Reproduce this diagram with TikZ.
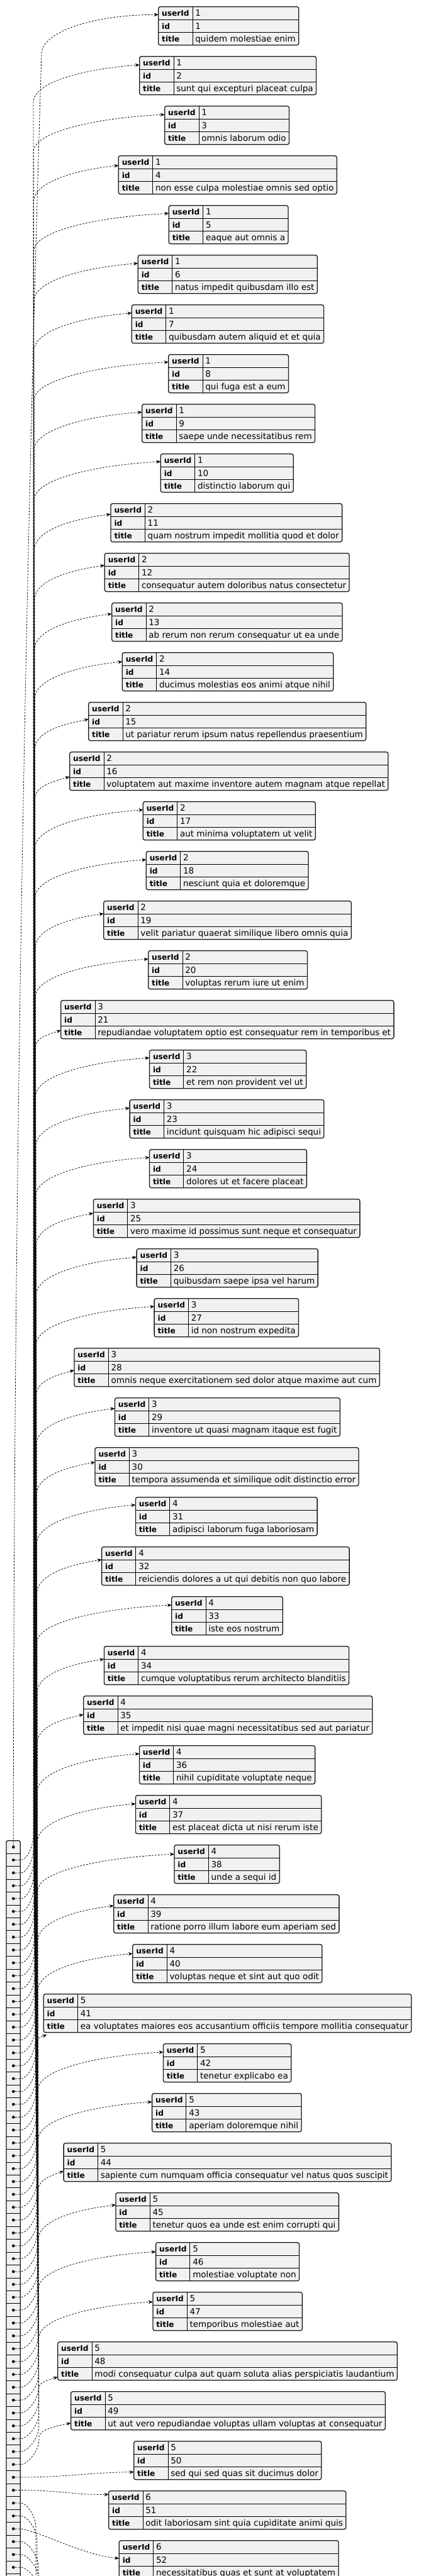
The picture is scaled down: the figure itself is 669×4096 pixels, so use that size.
\documentclass[tikz,border=0pt]{standalone}
\usepackage{fontspec}
\setmainfont{DejaVu Sans}
\usetikzlibrary{arrows.meta}
\definecolor{boxfill}{HTML}{F1F1F1}
\definecolor{boxline}{HTML}{181818}
\pgfdeclarelayer{bg}
\pgfsetlayers{bg,main}
\newcommand\valfont{\fontsize{13.5}{16}\selectfont}
\newcommand\keyfont{\fontsize{12.2}{15}\selectfont\bfseries}
\tikzset{
 objfill/.style={fill=boxfill, rounded corners=3pt},
 objborder/.style={draw=boxline, line width=1.3pt, rounded corners=3pt},
 rowline/.style={draw=black, line width=0.9pt},
 keytext/.style={anchor=base west, inner sep=0pt, font=\keyfont},
 valtext/.style={anchor=base west, inner sep=0pt, font=\valfont},
 connplain/.style={draw=black, line width=0.75pt, dash pattern=on 2.8pt off 2.2pt},
 conn/.style={connplain, -{Stealth[length=7pt,width=5.5pt,inset=2.2pt]}},
 bullet/.style={circle, fill=black, inner sep=0pt, minimum size=4.6pt},
}
\newcommand\jo[5]{%
 \pgfmathsetmacro\tp{10.7+79*(#1-1)}%
 \node[keytext] (ku#1) at (#2+5.3,\tp+15.2) {userId};
 \node[keytext] (ki#1) at (#2+5.3,\tp+35.5) {id};
 \node[keytext] (kt#1) at (#2+5.3,\tp+55.9) {title};
 \node[valtext] (vu#1) at (#2+58.5,\tp+15.2) {#3};
 \node[valtext] (vi#1) at (#2+58.5,\tp+35.5) {#1};
 \node[valtext] (vt#1) at (#2+58.5,\tp+55.9) {#4};
 \coordinate (p#1) at (#2,\tp);
 \coordinate (q#1) at (#2,\tp+61);
 \coordinate (h#1) at (#2,\tp+20.33);
 \coordinate (g#1) at (#2,\tp+40.67);
 \coordinate (m#1) at (#2+54.3,\tp);
 \coordinate (r#1) at ([xshift=4.7pt]vt#1.base east);
 \begin{pgfonlayer}{bg}
  \fill[objfill] (p#1) rectangle (r#1 |- q#1);
  \draw[rowline] (h#1) -- (h#1 -| r#1);
  \draw[rowline] (g#1) -- (g#1 -| r#1);
  \draw[rowline] (m#1) -- (m#1 |- q#1);
  \draw[objborder] (p#1) rectangle (r#1 |- q#1);
 \end{pgfonlayer}
 \coordinate (a#1) at (#2,\tp+#5);
}
\begin{document}
\begin{tikzpicture}[x=1pt,y=-1pt]
\useasboundingbox (0,0) rectangle (669,4096);
\clip (0,0) rectangle (669,4096);
\begin{pgfonlayer}{bg}
\fill[white] (0,0) rectangle (669,4096);
\end{pgfonlayer}

% objects
\jo{1}{251.7}{1}{quidem molestiae enim}{12.6}
\jo{2}{221.7}{1}{sunt qui excepturi placeat culpa}{13.4}
\jo{3}{261.7}{1}{omnis laborum odio}{13.4}
\jo{4}{188.3}{1}{non esse culpa molestiae omnis sed optio}{15.4}
\jo{5}{268.3}{1}{eaque aut omnis a}{12.6}
\jo{6}{219.3}{1}{natus impedit quibusdam illo est}{13}
\jo{7}{209.3}{1}{quibusdam autem aliquid et et quia}{13}
\jo{8}{267.7}{1}{qui fuga est a eum}{12}
\jo{9}{225.7}{1}{saepe unde necessitatibus rem}{12.6}
\jo{10}{255.3}{1}{distinctio laborum qui}{12.3}
\jo{11}{176}{2}{quam nostrum impedit mollitia quod et dolor}{17}
\jo{12}{166.3}{2}{consequatur autem doloribus natus consectetur}{19.3}
\jo{13}{177.7}{2}{ab rerum non rerum consequatur ut ea unde}{17.4}
\jo{14}{194.3}{2}{ducimus molestias eos animi atque nihil}{14.4}
\jo{15}{140.7}{2}{ut pariatur rerum ipsum natus repellendus praesentium}{27}
\jo{16}{110.7}{2}{voluptatem aut maxime inventore autem magnam atque repellat}{39.3}
\jo{17}{227.3}{2}{aut minima voluptatem ut velit}{13}
\jo{18}{232.3}{2}{nesciunt quia et doloremque}{13.3}
\jo{19}{164.7}{2}{velit pariatur quaerat similique libero omnis quia}{20}
\jo{20}{235.7}{2}{voluptas rerum iure ut enim}{13.3}
\jo{21}{96.7}{3}{repudiandae voluptatem optio est consequatur rem in temporibus et}{47.3}
\jo{22}{237.5}{3}{et rem non provident vel ut}{12.3}
\jo{23}{206.1}{3}{incidunt quisquam hic adipisci sequi}{13.3}
\jo{24}{237.5}{3}{dolores ut et facere placeat}{12.7}
\jo{25}{148.4}{3}{vero maxime id possimus sunt neque et consequatur}{22.3}
\jo{26}{217.1}{3}{quibusdam saepe ipsa vel harum}{13.3}
\jo{27}{245.1}{3}{id non nostrum expedita}{12.7}
\jo{28}{117.9}{3}{omnis neque exercitationem sed dolor atque maxime aut cum}{35}
\jo{29}{182.4}{3}{inventore ut quasi magnam itaque est fugit}{16.7}
\jo{30}{151}{3}{tempora assumenda et similique odit distinctio error}{23.3}
\jo{31}{215.4}{4}{adipisci laborum fuga laboriosam}{12.2}
\jo{32}{161.6}{4}{reiciendis dolores a ut qui debitis non quo labore}{20.2}
\jo{33}{272.7}{4}{iste eos nostrum}{13.4}
\jo{34}{165.4}{4}{cumque voluptatibus rerum architecto blanditiis}{20.4}
\jo{35}{132.7}{4}{et impedit nisi quae magni necessitatibus sed aut pariatur}{29.4}
\jo{36}{221.4}{4}{nihil cupiditate voluptate neque}{12.8}
\jo{37}{215.4}{4}{est placeat dicta ut nisi rerum iste}{13.4}
\jo{38}{276.9}{4}{unde a sequi id}{14.5}
\jo{39}{180.7}{4}{ratione porro illum labore eum aperiam sed}{17.5}
\jo{40}{210.8}{4}{voluptas neque et sint aut quo odit}{14.6}
\jo{41}{69.2}{5}{ea voluptates maiores eos accusantium officiis tempore mollitia consequatur}{64.4}
\jo{42}{259.4}{5}{tenetur explicabo ea}{13.2}
\jo{43}{241.6}{5}{aperiam doloremque nihil}{13.4}
\jo{44}{101.1}{5}{sapiente cum numquam officia consequatur vel natus quos suscipit}{44}
\jo{45}{183.9}{5}{tenetur quos ea unde est enim corrupti qui}{19.3}
\jo{46}{247.6}{5}{molestiae voluptate non}{14.7}
\jo{47}{242.9}{5}{temporibus molestiae aut}{15.3}
\jo{48}{91.7}{5}{modi consequatur culpa aut quam soluta alias perspiciatis laudantium}{55.6}
\jo{49}{112.7}{5}{ut aut vero repudiandae voluptas ullam voluptas at consequatur}{50}
\jo{50}{212.7}{5}{sed qui sed quas sit ducimus dolor}{49}
\jo{51}{172.7}{6}{odit laboriosam sint quia cupiditate animi quis}{5.7}
\jo{52}{189.3}{6}{necessitatibus quas et sunt at voluptatem}{28.3}
\coordinate (a41) at (74.3,3235.1);

% array
\fill[objfill] (10,2926.7) rectangle (32.3,4260);
\foreach \i in {1,...,64} {
  \draw[rowline] (10,2926.7+20.45*\i) -- (32.3,2926.7+20.45*\i);
}
\draw[objborder] (10,2926.7) rectangle (32.3,4260);
\foreach \i in {0,...,64} {
  \node[bullet] (c\i) at (21.3,2937+20.45*\i) {};
}

% connector to object 1
\draw[conn] (c0) .. controls (21.3,1700) and (50,600) .. (66,85) .. controls (67,50) and (150,23.3) .. (a1);

% connectors going up
\foreach \k/\lx/\off in {2/221.7/13.4, 3/261.7/13.4, 4/188.3/15.4, 5/268.3/12.6, 6/219.3/13, 7/209.3/13, 8/267.7/12, 9/225.7/12.6, 10/255.3/12.3, 11/176/17, 12/166.3/19.3, 13/177.7/17.4, 14/194.3/14.4, 15/140.7/27, 16/110.7/39.3, 17/227.3/13, 18/232.3/13.3, 19/164.7/20, 20/235.7/13.3, 21/96.7/47.3, 22/237.5/12.3, 23/206.1/13.3, 24/237.5/12.7, 25/148.4/22.3, 26/217.1/13.3, 27/245.1/12.7, 28/117.9/35, 29/182.4/16.7, 30/151/23.3, 31/215.4/12.2, 32/161.6/20.2, 33/272.7/13.4, 34/165.4/20.4, 35/132.7/29.4, 36/221.4/12.8, 37/215.4/13.4, 38/276.9/14.5, 39/180.7/17.5, 40/210.8/14.6, 41/74.3/64.4, 42/259.4/13.2, 43/241.6/13.4, 44/101.1/44, 45/183.9/19.3, 46/247.6/14.7, 47/242.9/15.3, 48/91.7/55.6, 49/112.7/50} {
  \pgfmathsetmacro\yc{2937+20.45*(\k-1)}
  \pgfmathsetmacro\bx{53+9*(\k-2)/47}
  \pgfmathsetmacro\yl{10.7+79*(\k-1)+71}
  \pgfmathsetmacro\yt{10.7+79*(\k-1)+\off}
  \pgfmathsetmacro\rise{\yl-\yt}
  \pgfmathsetmacro\ddx{\lx-\bx}
  \pgfmathsetmacro\cax{\bx+4}
  \pgfmathsetmacro\cay{\yl-0.55*\rise}
  \pgfmathsetmacro\cbx{\lx-0.5*\ddx}
  \pgfmathsetmacro\cby{\yt+0.7*\rise*30/(\ddx+30)}
  \pgfmathtruncatemacro\ci{\k-1}
  \draw[conn] (c\ci) -- ++(12,0) .. controls +(9,0) and (\bx,\yc-20) .. (\bx,\yc-40) -- (\bx,\yl) .. controls (\cax,\cay) and (\cbx,\cby) .. (a\k);
}

% nearly level connectors
\draw[conn] (c49) -- ++(12,0) .. controls +(70,0) and (150,3930.7) .. (a50);
\draw[conn] (c50) -- ++(12,0) .. controls +(60,0) and (110,3966.7) .. (a51);
\draw[conn] (c53) -- ++(12,0) .. controls +(40,8) and (130,4062) .. (a52);

% connectors going down, out of the picture
\foreach \i/\bx in {51/57, 52/59, 54/61, 55/62, 56/63, 57/60, 58/58, 59/56, 60/55} {
  \pgfmathsetmacro\yc{2937+20.45*\i}
  \coordinate (d\i) at (\bx,4260);
  \draw[connplain] (c\i) -- ++(12,0) .. controls +(9,0) and (\bx,\yc+20) .. (\bx,\yc+40) -- (d\i);
}
\end{tikzpicture}
\end{document}
